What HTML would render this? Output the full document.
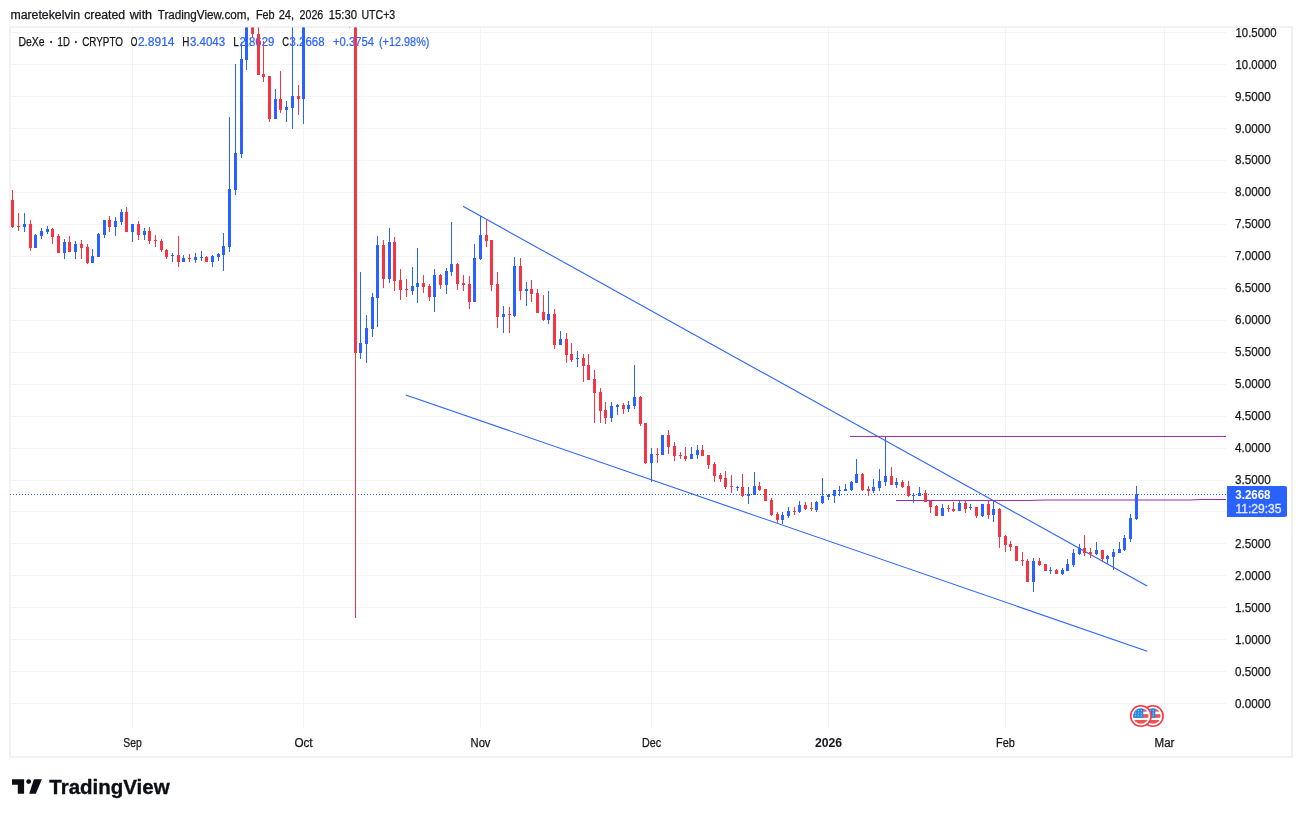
<!DOCTYPE html>
<html lang="en"><head><meta charset="utf-8"><title>DeXe chart</title>
<style>html,body{margin:0;padding:0;background:#fff}body{width:1302px;height:817px;overflow:hidden;position:relative}</style></head>
<body>
<svg width="1302" height="817" viewBox="0 0 1302 817" font-family="Liberation Sans, Arial, sans-serif" style="position:absolute;left:0;top:0;display:block">
<rect x="0" y="0" width="1302" height="817" fill="#fff"/>
<g fill="#f4f4f4">
<rect x="10" y="32.00" width="1216" height="1"/>
<rect x="10" y="64.00" width="1216" height="1"/>
<rect x="10" y="96.00" width="1216" height="1"/>
<rect x="10" y="128.00" width="1216" height="1"/>
<rect x="10" y="160.00" width="1216" height="1"/>
<rect x="10" y="192.00" width="1216" height="1"/>
<rect x="10" y="224.00" width="1216" height="1"/>
<rect x="10" y="256.00" width="1216" height="1"/>
<rect x="10" y="288.00" width="1216" height="1"/>
<rect x="10" y="320.00" width="1216" height="1"/>
<rect x="10" y="352.00" width="1216" height="1"/>
<rect x="10" y="384.00" width="1216" height="1"/>
<rect x="10" y="416.00" width="1216" height="1"/>
<rect x="10" y="448.00" width="1216" height="1"/>
<rect x="10" y="480.00" width="1216" height="1"/>
<rect x="10" y="511.00" width="1216" height="1"/>
<rect x="10" y="543.00" width="1216" height="1"/>
<rect x="10" y="575.00" width="1216" height="1"/>
<rect x="10" y="607.00" width="1216" height="1"/>
<rect x="10" y="639.00" width="1216" height="1"/>
<rect x="10" y="671.00" width="1216" height="1"/>
<rect x="10" y="703.00" width="1216" height="1"/>
<rect x="132" y="27" width="1" height="701.5"/>
<rect x="303" y="27" width="1" height="701.5"/>
<rect x="480" y="27" width="1" height="701.5"/>
<rect x="651" y="27" width="1" height="701.5"/>
<rect x="828" y="27" width="1" height="701.5"/>
<rect x="1005" y="27" width="1" height="701.5"/>
<rect x="1164" y="27" width="1" height="701.5"/>
</g>
<rect x="10" y="27" width="1282" height="730" fill="none" stroke="#f2f2f2" stroke-width="2"/>
<text x="10.40" y="18.80" font-size="12" fill="#15161b" textLength="69.80" lengthAdjust="spacingAndGlyphs" stroke="#15161b" stroke-width="0.25" >maretekelvin</text>
<text x="84.20" y="18.80" font-size="12" fill="#15161b" textLength="41.00" lengthAdjust="spacingAndGlyphs" stroke="#15161b" stroke-width="0.25" >created</text>
<text x="129.80" y="18.80" font-size="12" fill="#15161b" textLength="22.30" lengthAdjust="spacingAndGlyphs" stroke="#15161b" stroke-width="0.25" >with</text>
<text x="157.70" y="18.80" font-size="12" fill="#15161b" textLength="92.10" lengthAdjust="spacingAndGlyphs" stroke="#15161b" stroke-width="0.25" >TradingView.com,</text>
<text x="255.90" y="18.80" font-size="12" fill="#15161b" textLength="18.70" lengthAdjust="spacingAndGlyphs" stroke="#15161b" stroke-width="0.25" >Feb</text>
<text x="278.70" y="18.80" font-size="12" fill="#15161b" textLength="15.40" lengthAdjust="spacingAndGlyphs" stroke="#15161b" stroke-width="0.25" >24,</text>
<text x="299.60" y="18.80" font-size="12" fill="#15161b" textLength="23.70" lengthAdjust="spacingAndGlyphs" stroke="#15161b" stroke-width="0.25" >2026</text>
<text x="328.70" y="18.80" font-size="12" fill="#15161b" textLength="28.40" lengthAdjust="spacingAndGlyphs" stroke="#15161b" stroke-width="0.25" >15:30</text>
<text x="361.40" y="18.80" font-size="12" fill="#15161b" textLength="33.80" lengthAdjust="spacingAndGlyphs" stroke="#15161b" stroke-width="0.25" >UTC+3</text>
<text x="18.40" y="45.90" font-size="12" fill="#15161b" textLength="26.10" lengthAdjust="spacingAndGlyphs" stroke="#15161b" stroke-width="0.25" >DeXe</text>
<text x="51.10" y="43.70" font-size="6.5" fill="#15161b" text-anchor="middle" stroke="#15161b" stroke-width="0.25" >•</text>
<text x="57.60" y="45.90" font-size="12" fill="#15161b" textLength="12.30" lengthAdjust="spacingAndGlyphs" stroke="#15161b" stroke-width="0.25" >1D</text>
<text x="76.00" y="43.70" font-size="6.5" fill="#15161b" text-anchor="middle" stroke="#15161b" stroke-width="0.25" >•</text>
<text x="82.20" y="45.90" font-size="12" fill="#15161b" textLength="40.80" lengthAdjust="spacingAndGlyphs" stroke="#15161b" stroke-width="0.25" >CRYPTO</text>
<text x="130.70" y="45.90" font-size="12" fill="#15161b" textLength="6.60" lengthAdjust="spacingAndGlyphs" stroke="#15161b" stroke-width="0.25" >O</text>
<text x="137.90" y="45.90" font-size="12" fill="#2962ff" textLength="36.60" lengthAdjust="spacingAndGlyphs" stroke="#2962ff" stroke-width="0.2" >2.8914</text>
<text x="182.20" y="45.90" font-size="12" fill="#15161b" textLength="7.10" lengthAdjust="spacingAndGlyphs" stroke="#15161b" stroke-width="0.25" >H</text>
<text x="189.90" y="45.90" font-size="12" fill="#2962ff" textLength="35.30" lengthAdjust="spacingAndGlyphs" stroke="#2962ff" stroke-width="0.2" >3.4043</text>
<text x="233.30" y="45.90" font-size="12" fill="#15161b" textLength="5.70" lengthAdjust="spacingAndGlyphs" stroke="#15161b" stroke-width="0.25" >L</text>
<text x="239.60" y="45.90" font-size="12" fill="#2962ff" textLength="34.70" lengthAdjust="spacingAndGlyphs" stroke="#2962ff" stroke-width="0.2" >2.8629</text>
<text x="282.30" y="45.90" font-size="12" fill="#15161b" textLength="6.70" lengthAdjust="spacingAndGlyphs" stroke="#15161b" stroke-width="0.25" >C</text>
<text x="289.60" y="45.90" font-size="12" fill="#2962ff" textLength="34.90" lengthAdjust="spacingAndGlyphs" stroke="#2962ff" stroke-width="0.2" >3.2668</text>
<text x="333.00" y="45.90" font-size="12" fill="#2962ff" textLength="41.00" lengthAdjust="spacingAndGlyphs" stroke="#2962ff" stroke-width="0.2" >+0.3754</text>
<text x="379.00" y="45.90" font-size="12" fill="#2962ff" textLength="50.40" lengthAdjust="spacingAndGlyphs" stroke="#2962ff" stroke-width="0.2" >(+12.98%)</text>
<text x="1235.50" y="37.10" font-size="12.3" fill="#15161b" textLength="41.10" lengthAdjust="spacingAndGlyphs" stroke="#15161b" stroke-width="0.25" >10.5000</text>
<text x="1235.50" y="69.10" font-size="12.3" fill="#15161b" textLength="41.10" lengthAdjust="spacingAndGlyphs" stroke="#15161b" stroke-width="0.25" >10.0000</text>
<text x="1234.90" y="101.10" font-size="12.3" fill="#15161b" textLength="35.80" lengthAdjust="spacingAndGlyphs" stroke="#15161b" stroke-width="0.25" >9.5000</text>
<text x="1234.90" y="133.10" font-size="12.3" fill="#15161b" textLength="35.80" lengthAdjust="spacingAndGlyphs" stroke="#15161b" stroke-width="0.25" >9.0000</text>
<text x="1234.90" y="164.10" font-size="12.3" fill="#15161b" textLength="35.80" lengthAdjust="spacingAndGlyphs" stroke="#15161b" stroke-width="0.25" >8.5000</text>
<text x="1234.90" y="196.10" font-size="12.3" fill="#15161b" textLength="35.80" lengthAdjust="spacingAndGlyphs" stroke="#15161b" stroke-width="0.25" >8.0000</text>
<text x="1234.90" y="228.10" font-size="12.3" fill="#15161b" textLength="35.80" lengthAdjust="spacingAndGlyphs" stroke="#15161b" stroke-width="0.25" >7.5000</text>
<text x="1234.90" y="260.10" font-size="12.3" fill="#15161b" textLength="35.80" lengthAdjust="spacingAndGlyphs" stroke="#15161b" stroke-width="0.25" >7.0000</text>
<text x="1234.90" y="292.10" font-size="12.3" fill="#15161b" textLength="35.80" lengthAdjust="spacingAndGlyphs" stroke="#15161b" stroke-width="0.25" >6.5000</text>
<text x="1234.90" y="324.10" font-size="12.3" fill="#15161b" textLength="35.80" lengthAdjust="spacingAndGlyphs" stroke="#15161b" stroke-width="0.25" >6.0000</text>
<text x="1234.90" y="356.10" font-size="12.3" fill="#15161b" textLength="35.80" lengthAdjust="spacingAndGlyphs" stroke="#15161b" stroke-width="0.25" >5.5000</text>
<text x="1234.90" y="388.10" font-size="12.3" fill="#15161b" textLength="35.80" lengthAdjust="spacingAndGlyphs" stroke="#15161b" stroke-width="0.25" >5.0000</text>
<text x="1234.90" y="420.10" font-size="12.3" fill="#15161b" textLength="35.80" lengthAdjust="spacingAndGlyphs" stroke="#15161b" stroke-width="0.25" >4.5000</text>
<text x="1234.90" y="452.10" font-size="12.3" fill="#15161b" textLength="35.80" lengthAdjust="spacingAndGlyphs" stroke="#15161b" stroke-width="0.25" >4.0000</text>
<text x="1234.90" y="484.10" font-size="12.3" fill="#15161b" textLength="35.80" lengthAdjust="spacingAndGlyphs" stroke="#15161b" stroke-width="0.25" >3.5000</text>
<text x="1234.90" y="548.10" font-size="12.3" fill="#15161b" textLength="35.80" lengthAdjust="spacingAndGlyphs" stroke="#15161b" stroke-width="0.25" >2.5000</text>
<text x="1234.90" y="580.10" font-size="12.3" fill="#15161b" textLength="35.80" lengthAdjust="spacingAndGlyphs" stroke="#15161b" stroke-width="0.25" >2.0000</text>
<text x="1234.90" y="612.10" font-size="12.3" fill="#15161b" textLength="35.80" lengthAdjust="spacingAndGlyphs" stroke="#15161b" stroke-width="0.25" >1.5000</text>
<text x="1234.90" y="644.10" font-size="12.3" fill="#15161b" textLength="35.80" lengthAdjust="spacingAndGlyphs" stroke="#15161b" stroke-width="0.25" >1.0000</text>
<text x="1234.90" y="676.10" font-size="12.3" fill="#15161b" textLength="35.80" lengthAdjust="spacingAndGlyphs" stroke="#15161b" stroke-width="0.25" >0.5000</text>
<text x="1234.90" y="708.10" font-size="12.3" fill="#15161b" textLength="35.80" lengthAdjust="spacingAndGlyphs" stroke="#15161b" stroke-width="0.25" >0.0000</text>
<text x="123.25" y="747.00" font-size="12" fill="#15161b" textLength="18.50" lengthAdjust="spacingAndGlyphs" stroke="#15161b" stroke-width="0.25" >Sep</text>
<text x="294.40" y="747.00" font-size="12" fill="#15161b" textLength="18.20" lengthAdjust="spacingAndGlyphs" stroke="#15161b" stroke-width="0.25" >Oct</text>
<text x="470.55" y="747.00" font-size="12" fill="#15161b" textLength="19.90" lengthAdjust="spacingAndGlyphs" stroke="#15161b" stroke-width="0.25" >Nov</text>
<text x="642.00" y="747.00" font-size="12" fill="#15161b" textLength="19.00" lengthAdjust="spacingAndGlyphs" stroke="#15161b" stroke-width="0.25" >Dec</text>
<text x="814.90" y="747.00" font-size="12" fill="#15161b" textLength="27.20" lengthAdjust="spacingAndGlyphs" font-weight="bold" >2026</text>
<text x="996.10" y="747.00" font-size="12" fill="#15161b" textLength="18.80" lengthAdjust="spacingAndGlyphs" stroke="#15161b" stroke-width="0.25" >Feb</text>
<text x="1154.55" y="747.00" font-size="12" fill="#15161b" textLength="19.90" lengthAdjust="spacingAndGlyphs" stroke="#15161b" stroke-width="0.25" >Mar</text>
<clipPath id="pc"><rect x="10" y="27.4" width="1216" height="700.6"/></clipPath>
<g clip-path="url(#pc)">
<line x1="10" y1="494.5" x2="1226" y2="494.5" stroke="#2962ff" stroke-width="1" stroke-dasharray="1 2"/>
<line x1="463" y1="206.3" x2="1147.1" y2="585.9" stroke="#2962ff" stroke-width="1.1"/>
<line x1="405.8" y1="394.9" x2="1147.2" y2="651.2" stroke="#2962ff" stroke-width="1.1"/>
<line x1="850" y1="436.45" x2="1226" y2="436.45" stroke="#9c27b0" stroke-width="1"/>
<polyline points="896,500.5 1030,500.45 1045,500 1190,500 1200,499.55 1226,499.5" fill="none" stroke="#9c27b0" stroke-width="1"/>
<g fill="#f23645" shape-rendering="crispEdges">
<rect x="12" y="190" width="1" height="38"/>
<rect x="11" y="200" width="3" height="27"/>
<rect x="18" y="213" width="1" height="18"/>
<rect x="17" y="226" width="3" height="1"/>
<rect x="30" y="220" width="1" height="31"/>
<rect x="29" y="224" width="3" height="24"/>
<rect x="52" y="228" width="1" height="16"/>
<rect x="51" y="229" width="3" height="8"/>
<rect x="58" y="234" width="1" height="19"/>
<rect x="57" y="236" width="3" height="17"/>
<rect x="69" y="236" width="1" height="16"/>
<rect x="68" y="242" width="3" height="10"/>
<rect x="81" y="240" width="1" height="19"/>
<rect x="80" y="244" width="3" height="4"/>
<rect x="87" y="244" width="1" height="20"/>
<rect x="86" y="247" width="3" height="16"/>
<rect x="109" y="216" width="1" height="16"/>
<rect x="108" y="220" width="3" height="7"/>
<rect x="126" y="207" width="1" height="25"/>
<rect x="125" y="212" width="3" height="20"/>
<rect x="138" y="221" width="1" height="19"/>
<rect x="137" y="224" width="3" height="11"/>
<rect x="149" y="227" width="1" height="17"/>
<rect x="148" y="231" width="3" height="10"/>
<rect x="155" y="235" width="1" height="12"/>
<rect x="154" y="240" width="3" height="1"/>
<rect x="161" y="239" width="1" height="13"/>
<rect x="160" y="241" width="3" height="9"/>
<rect x="166" y="249" width="1" height="10"/>
<rect x="165" y="250" width="3" height="7"/>
<rect x="178" y="236" width="1" height="31"/>
<rect x="177" y="255" width="3" height="7"/>
<rect x="189" y="254" width="1" height="8"/>
<rect x="188" y="258" width="3" height="1"/>
<rect x="206" y="256" width="1" height="6"/>
<rect x="205" y="257" width="3" height="5"/>
<rect x="252" y="20" width="1" height="17"/>
<rect x="251" y="20" width="3" height="14"/>
<rect x="258" y="20" width="1" height="55"/>
<rect x="257" y="34" width="3" height="41"/>
<rect x="263" y="41" width="1" height="41"/>
<rect x="262" y="74" width="3" height="3"/>
<rect x="269" y="76" width="1" height="46"/>
<rect x="268" y="76" width="3" height="43"/>
<rect x="280" y="71" width="1" height="42"/>
<rect x="279" y="99" width="3" height="11"/>
<rect x="298" y="85" width="1" height="30"/>
<rect x="297" y="96" width="3" height="3"/>
<rect x="349" y="20" width="1" height="8"/>
<rect x="348" y="20" width="3" height="1"/>
<rect x="355" y="20" width="1" height="598"/>
<rect x="354" y="20" width="3" height="333"/>
<rect x="383" y="240" width="1" height="48"/>
<rect x="382" y="245" width="3" height="34"/>
<rect x="394" y="237" width="1" height="54"/>
<rect x="393" y="242" width="3" height="39"/>
<rect x="400" y="269" width="1" height="31"/>
<rect x="399" y="280" width="3" height="10"/>
<rect x="406" y="279" width="1" height="18"/>
<rect x="405" y="289" width="3" height="1"/>
<rect x="423" y="275" width="1" height="18"/>
<rect x="422" y="283" width="3" height="4"/>
<rect x="429" y="284" width="1" height="17"/>
<rect x="428" y="286" width="3" height="11"/>
<rect x="440" y="274" width="1" height="15"/>
<rect x="439" y="275" width="3" height="10"/>
<rect x="457" y="263" width="1" height="27"/>
<rect x="456" y="264" width="3" height="20"/>
<rect x="463" y="275" width="1" height="16"/>
<rect x="462" y="283" width="3" height="2"/>
<rect x="469" y="276" width="1" height="33"/>
<rect x="468" y="284" width="3" height="18"/>
<rect x="486" y="219" width="1" height="28"/>
<rect x="485" y="235" width="3" height="6"/>
<rect x="491" y="240" width="1" height="51"/>
<rect x="490" y="240" width="3" height="45"/>
<rect x="497" y="272" width="1" height="56"/>
<rect x="496" y="284" width="3" height="33"/>
<rect x="509" y="307" width="1" height="26"/>
<rect x="508" y="314" width="3" height="1"/>
<rect x="520" y="258" width="1" height="42"/>
<rect x="519" y="266" width="3" height="25"/>
<rect x="531" y="280" width="1" height="22"/>
<rect x="530" y="289" width="3" height="5"/>
<rect x="537" y="289" width="1" height="24"/>
<rect x="536" y="293" width="3" height="20"/>
<rect x="543" y="295" width="1" height="26"/>
<rect x="542" y="312" width="3" height="8"/>
<rect x="554" y="309" width="1" height="40"/>
<rect x="553" y="314" width="3" height="31"/>
<rect x="566" y="333" width="1" height="30"/>
<rect x="565" y="339" width="3" height="16"/>
<rect x="571" y="343" width="1" height="19"/>
<rect x="570" y="354" width="3" height="6"/>
<rect x="583" y="354" width="1" height="28"/>
<rect x="582" y="358" width="3" height="8"/>
<rect x="588" y="354" width="1" height="26"/>
<rect x="587" y="365" width="3" height="15"/>
<rect x="594" y="370" width="1" height="53"/>
<rect x="593" y="379" width="3" height="14"/>
<rect x="600" y="388" width="1" height="35"/>
<rect x="599" y="392" width="3" height="19"/>
<rect x="605" y="402" width="1" height="22"/>
<rect x="604" y="410" width="3" height="8"/>
<rect x="623" y="403" width="1" height="11"/>
<rect x="622" y="405" width="3" height="4"/>
<rect x="640" y="396" width="1" height="30"/>
<rect x="639" y="397" width="3" height="27"/>
<rect x="645" y="423" width="1" height="41"/>
<rect x="644" y="423" width="3" height="40"/>
<rect x="657" y="448" width="1" height="15"/>
<rect x="656" y="454" width="3" height="1"/>
<rect x="668" y="430" width="1" height="24"/>
<rect x="667" y="435" width="3" height="12"/>
<rect x="674" y="442" width="1" height="19"/>
<rect x="673" y="446" width="3" height="10"/>
<rect x="680" y="452" width="1" height="7"/>
<rect x="679" y="455" width="3" height="1"/>
<rect x="685" y="447" width="1" height="14"/>
<rect x="684" y="456" width="3" height="3"/>
<rect x="702" y="445" width="1" height="11"/>
<rect x="701" y="450" width="3" height="6"/>
<rect x="708" y="455" width="1" height="14"/>
<rect x="707" y="455" width="3" height="10"/>
<rect x="714" y="462" width="1" height="20"/>
<rect x="713" y="464" width="3" height="12"/>
<rect x="720" y="473" width="1" height="9"/>
<rect x="719" y="475" width="3" height="4"/>
<rect x="725" y="471" width="1" height="18"/>
<rect x="724" y="478" width="3" height="9"/>
<rect x="731" y="475" width="1" height="18"/>
<rect x="730" y="486" width="3" height="1"/>
<rect x="742" y="474" width="1" height="23"/>
<rect x="741" y="487" width="3" height="9"/>
<rect x="759" y="482" width="1" height="9"/>
<rect x="758" y="486" width="3" height="4"/>
<rect x="765" y="489" width="1" height="12"/>
<rect x="764" y="489" width="3" height="12"/>
<rect x="771" y="498" width="1" height="18"/>
<rect x="770" y="500" width="3" height="15"/>
<rect x="777" y="512" width="1" height="11"/>
<rect x="776" y="514" width="3" height="6"/>
<rect x="794" y="507" width="1" height="8"/>
<rect x="793" y="511" width="3" height="1"/>
<rect x="805" y="502" width="1" height="8"/>
<rect x="804" y="505" width="3" height="4"/>
<rect x="811" y="502" width="1" height="9"/>
<rect x="810" y="508" width="3" height="1"/>
<rect x="862" y="473" width="1" height="18"/>
<rect x="861" y="474" width="3" height="16"/>
<rect x="868" y="486" width="1" height="10"/>
<rect x="867" y="489" width="3" height="2"/>
<rect x="891" y="467" width="1" height="18"/>
<rect x="890" y="476" width="3" height="9"/>
<rect x="902" y="480" width="1" height="8"/>
<rect x="901" y="482" width="3" height="5"/>
<rect x="908" y="481" width="1" height="16"/>
<rect x="907" y="486" width="3" height="10"/>
<rect x="925" y="490" width="1" height="12"/>
<rect x="924" y="493" width="3" height="9"/>
<rect x="930" y="500" width="1" height="13"/>
<rect x="929" y="501" width="3" height="6"/>
<rect x="936" y="505" width="1" height="11"/>
<rect x="935" y="506" width="3" height="10"/>
<rect x="948" y="505" width="1" height="7"/>
<rect x="947" y="508" width="3" height="1"/>
<rect x="953" y="502" width="1" height="10"/>
<rect x="952" y="509" width="3" height="2"/>
<rect x="965" y="500" width="1" height="13"/>
<rect x="964" y="503" width="3" height="6"/>
<rect x="976" y="507" width="1" height="11"/>
<rect x="975" y="507" width="3" height="9"/>
<rect x="988" y="501" width="1" height="18"/>
<rect x="987" y="504" width="3" height="11"/>
<rect x="999" y="508" width="1" height="40"/>
<rect x="998" y="509" width="3" height="28"/>
<rect x="1005" y="535" width="1" height="17"/>
<rect x="1004" y="536" width="3" height="9"/>
<rect x="1010" y="541" width="1" height="10"/>
<rect x="1009" y="544" width="3" height="3"/>
<rect x="1016" y="546" width="1" height="15"/>
<rect x="1015" y="546" width="3" height="15"/>
<rect x="1022" y="552" width="1" height="14"/>
<rect x="1021" y="560" width="3" height="1"/>
<rect x="1027" y="559" width="1" height="23"/>
<rect x="1026" y="561" width="3" height="21"/>
<rect x="1039" y="558" width="1" height="8"/>
<rect x="1038" y="561" width="3" height="4"/>
<rect x="1045" y="564" width="1" height="7"/>
<rect x="1044" y="564" width="3" height="7"/>
<rect x="1056" y="569" width="1" height="5"/>
<rect x="1055" y="570" width="3" height="4"/>
<rect x="1084" y="535" width="1" height="21"/>
<rect x="1083" y="548" width="3" height="5"/>
<rect x="1090" y="548" width="1" height="10"/>
<rect x="1089" y="552" width="3" height="2"/>
<rect x="1102" y="550" width="1" height="12"/>
<rect x="1101" y="550" width="3" height="9"/>
</g>
<g fill="#2962ff" shape-rendering="crispEdges">
<rect x="24" y="213" width="1" height="19"/>
<rect x="23" y="224" width="3" height="3"/>
<rect x="35" y="234" width="1" height="14"/>
<rect x="34" y="235" width="3" height="13"/>
<rect x="41" y="228" width="1" height="11"/>
<rect x="40" y="231" width="3" height="5"/>
<rect x="47" y="226" width="1" height="8"/>
<rect x="46" y="229" width="3" height="3"/>
<rect x="64" y="239" width="1" height="20"/>
<rect x="63" y="242" width="3" height="11"/>
<rect x="75" y="241" width="1" height="18"/>
<rect x="74" y="244" width="3" height="8"/>
<rect x="92" y="249" width="1" height="14"/>
<rect x="91" y="256" width="3" height="7"/>
<rect x="98" y="233" width="1" height="24"/>
<rect x="97" y="234" width="3" height="23"/>
<rect x="104" y="220" width="1" height="18"/>
<rect x="103" y="220" width="3" height="15"/>
<rect x="115" y="217" width="1" height="19"/>
<rect x="114" y="221" width="3" height="6"/>
<rect x="121" y="209" width="1" height="16"/>
<rect x="120" y="212" width="3" height="10"/>
<rect x="132" y="224" width="1" height="18"/>
<rect x="131" y="224" width="3" height="8"/>
<rect x="144" y="228" width="1" height="12"/>
<rect x="143" y="231" width="3" height="4"/>
<rect x="172" y="253" width="1" height="9"/>
<rect x="171" y="255" width="3" height="1"/>
<rect x="183" y="255" width="1" height="7"/>
<rect x="182" y="258" width="3" height="4"/>
<rect x="195" y="253" width="1" height="10"/>
<rect x="194" y="257" width="3" height="3"/>
<rect x="201" y="251" width="1" height="10"/>
<rect x="200" y="257" width="3" height="1"/>
<rect x="212" y="255" width="1" height="12"/>
<rect x="211" y="256" width="3" height="6"/>
<rect x="218" y="253" width="1" height="8"/>
<rect x="217" y="254" width="3" height="3"/>
<rect x="223" y="233" width="1" height="38"/>
<rect x="222" y="246" width="3" height="9"/>
<rect x="229" y="117" width="1" height="135"/>
<rect x="228" y="189" width="3" height="58"/>
<rect x="235" y="64" width="1" height="131"/>
<rect x="234" y="153" width="3" height="37"/>
<rect x="241" y="42" width="1" height="116"/>
<rect x="240" y="59" width="3" height="95"/>
<rect x="246" y="20" width="1" height="50"/>
<rect x="245" y="20" width="3" height="40"/>
<rect x="275" y="89" width="1" height="30"/>
<rect x="274" y="99" width="3" height="20"/>
<rect x="286" y="101" width="1" height="21"/>
<rect x="285" y="107" width="3" height="3"/>
<rect x="292" y="20" width="1" height="109"/>
<rect x="291" y="96" width="3" height="12"/>
<rect x="303" y="20" width="1" height="104"/>
<rect x="302" y="20" width="3" height="79"/>
<rect x="360" y="272" width="1" height="87"/>
<rect x="359" y="343" width="3" height="10"/>
<rect x="366" y="315" width="1" height="48"/>
<rect x="365" y="328" width="3" height="16"/>
<rect x="372" y="293" width="1" height="44"/>
<rect x="371" y="297" width="3" height="32"/>
<rect x="377" y="236" width="1" height="91"/>
<rect x="376" y="245" width="3" height="53"/>
<rect x="389" y="228" width="1" height="55"/>
<rect x="388" y="242" width="3" height="37"/>
<rect x="412" y="267" width="1" height="28"/>
<rect x="411" y="286" width="3" height="5"/>
<rect x="417" y="248" width="1" height="55"/>
<rect x="416" y="283" width="3" height="4"/>
<rect x="434" y="269" width="1" height="43"/>
<rect x="433" y="275" width="3" height="22"/>
<rect x="446" y="268" width="1" height="26"/>
<rect x="445" y="271" width="3" height="14"/>
<rect x="451" y="222" width="1" height="54"/>
<rect x="450" y="264" width="3" height="8"/>
<rect x="474" y="244" width="1" height="58"/>
<rect x="473" y="258" width="3" height="44"/>
<rect x="480" y="216" width="1" height="44"/>
<rect x="479" y="235" width="3" height="24"/>
<rect x="503" y="306" width="1" height="27"/>
<rect x="502" y="314" width="3" height="3"/>
<rect x="514" y="257" width="1" height="60"/>
<rect x="513" y="266" width="3" height="50"/>
<rect x="526" y="282" width="1" height="24"/>
<rect x="525" y="289" width="3" height="2"/>
<rect x="548" y="291" width="1" height="33"/>
<rect x="547" y="314" width="3" height="6"/>
<rect x="560" y="331" width="1" height="14"/>
<rect x="559" y="339" width="3" height="6"/>
<rect x="577" y="351" width="1" height="16"/>
<rect x="576" y="358" width="3" height="1"/>
<rect x="611" y="402" width="1" height="20"/>
<rect x="610" y="406" width="3" height="12"/>
<rect x="617" y="404" width="1" height="11"/>
<rect x="616" y="405" width="3" height="2"/>
<rect x="628" y="401" width="1" height="11"/>
<rect x="627" y="405" width="3" height="4"/>
<rect x="634" y="365" width="1" height="44"/>
<rect x="633" y="397" width="3" height="9"/>
<rect x="651" y="448" width="1" height="34"/>
<rect x="650" y="454" width="3" height="9"/>
<rect x="662" y="435" width="1" height="20"/>
<rect x="661" y="435" width="3" height="20"/>
<rect x="691" y="447" width="1" height="12"/>
<rect x="690" y="454" width="3" height="5"/>
<rect x="697" y="445" width="1" height="14"/>
<rect x="696" y="450" width="3" height="5"/>
<rect x="737" y="486" width="1" height="5"/>
<rect x="736" y="487" width="3" height="1"/>
<rect x="748" y="487" width="1" height="17"/>
<rect x="747" y="494" width="3" height="2"/>
<rect x="754" y="472" width="1" height="23"/>
<rect x="753" y="486" width="3" height="9"/>
<rect x="782" y="512" width="1" height="12"/>
<rect x="781" y="515" width="3" height="5"/>
<rect x="788" y="507" width="1" height="11"/>
<rect x="787" y="511" width="3" height="5"/>
<rect x="799" y="501" width="1" height="12"/>
<rect x="798" y="505" width="3" height="7"/>
<rect x="816" y="501" width="1" height="11"/>
<rect x="815" y="502" width="3" height="8"/>
<rect x="822" y="478" width="1" height="26"/>
<rect x="821" y="496" width="3" height="7"/>
<rect x="828" y="494" width="1" height="6"/>
<rect x="827" y="495" width="3" height="2"/>
<rect x="834" y="490" width="1" height="13"/>
<rect x="833" y="490" width="3" height="6"/>
<rect x="839" y="486" width="1" height="10"/>
<rect x="838" y="490" width="3" height="1"/>
<rect x="845" y="484" width="1" height="7"/>
<rect x="844" y="489" width="3" height="2"/>
<rect x="851" y="481" width="1" height="10"/>
<rect x="850" y="482" width="3" height="8"/>
<rect x="856" y="459" width="1" height="24"/>
<rect x="855" y="474" width="3" height="9"/>
<rect x="873" y="479" width="1" height="14"/>
<rect x="872" y="487" width="3" height="4"/>
<rect x="879" y="469" width="1" height="22"/>
<rect x="878" y="481" width="3" height="7"/>
<rect x="885" y="437" width="1" height="49"/>
<rect x="884" y="476" width="3" height="6"/>
<rect x="896" y="478" width="1" height="10"/>
<rect x="895" y="482" width="3" height="3"/>
<rect x="913" y="493" width="1" height="10"/>
<rect x="912" y="495" width="3" height="1"/>
<rect x="919" y="487" width="1" height="9"/>
<rect x="918" y="493" width="3" height="3"/>
<rect x="942" y="504" width="1" height="12"/>
<rect x="941" y="508" width="3" height="8"/>
<rect x="959" y="501" width="1" height="10"/>
<rect x="958" y="503" width="3" height="8"/>
<rect x="970" y="504" width="1" height="6"/>
<rect x="969" y="507" width="3" height="1"/>
<rect x="982" y="504" width="1" height="13"/>
<rect x="981" y="504" width="3" height="12"/>
<rect x="993" y="501" width="1" height="21"/>
<rect x="992" y="509" width="3" height="6"/>
<rect x="1033" y="558" width="1" height="34"/>
<rect x="1032" y="561" width="3" height="21"/>
<rect x="1050" y="567" width="1" height="7"/>
<rect x="1049" y="570" width="3" height="1"/>
<rect x="1062" y="568" width="1" height="7"/>
<rect x="1061" y="570" width="3" height="4"/>
<rect x="1067" y="559" width="1" height="12"/>
<rect x="1066" y="564" width="3" height="7"/>
<rect x="1073" y="549" width="1" height="18"/>
<rect x="1072" y="553" width="3" height="12"/>
<rect x="1079" y="544" width="1" height="11"/>
<rect x="1078" y="548" width="3" height="6"/>
<rect x="1096" y="542" width="1" height="13"/>
<rect x="1095" y="550" width="3" height="4"/>
<rect x="1107" y="555" width="1" height="9"/>
<rect x="1106" y="556" width="3" height="3"/>
<rect x="1113" y="549" width="1" height="21"/>
<rect x="1112" y="552" width="3" height="5"/>
<rect x="1119" y="542" width="1" height="11"/>
<rect x="1118" y="549" width="3" height="4"/>
<rect x="1124" y="535" width="1" height="16"/>
<rect x="1123" y="538" width="3" height="12"/>
<rect x="1130" y="514" width="1" height="28"/>
<rect x="1129" y="518" width="3" height="21"/>
<rect x="1136" y="486" width="1" height="34"/>
<rect x="1135" y="494" width="3" height="25"/>
</g>
</g>
<path d="M1227 486h58a2 2 0 0 1 2 2v27a2 2 0 0 1 -2 2h-58z" fill="#2962ff"/>
<text x="1235.30" y="498.80" font-size="12.3" fill="#fff" textLength="35.20" lengthAdjust="spacingAndGlyphs" font-weight="bold" >3.2668</text>
<text x="1235.50" y="512.90" font-size="12.3" fill="#e6ecff" textLength="46.00" lengthAdjust="spacingAndGlyphs" stroke="#e6ecff" stroke-width="0.3">11:29:35</text>
<g>
<circle cx="1152.9" cy="716" r="10.2" fill="#fff" stroke="#f23645" stroke-width="1.6"/>
<clipPath id="f2"><circle cx="1152.9" cy="716" r="7.7"/></clipPath>
<g clip-path="url(#f2)">
<rect x="1144.9" y="708" width="16" height="16" fill="#fff"/>
<rect x="1144.9" y="708.8" width="16" height="2.8" fill="#ef5350"/>
<rect x="1144.9" y="714.2" width="16" height="3.6" fill="#ef5350"/>
<rect x="1144.9" y="720" width="16" height="4" fill="#ef5350"/>
<rect x="1144.9" y="708" width="10.4" height="9.8" fill="#1e88e5"/>
<rect x="1147.2" y="710.1" width="1" height="1" fill="#fff" opacity="0.85"/>
<rect x="1147.2" y="712.7" width="1" height="1" fill="#fff" opacity="0.85"/>
<rect x="1147.2" y="715.3" width="1" height="1" fill="#fff" opacity="0.85"/>
<rect x="1149.9" y="710.1" width="1" height="1" fill="#fff" opacity="0.85"/>
<rect x="1149.9" y="712.7" width="1" height="1" fill="#fff" opacity="0.85"/>
<rect x="1149.9" y="715.3" width="1" height="1" fill="#fff" opacity="0.85"/>
<rect x="1152.7" y="710.1" width="1" height="1" fill="#fff" opacity="0.85"/>
<rect x="1152.7" y="712.7" width="1" height="1" fill="#fff" opacity="0.85"/>
<rect x="1152.7" y="715.3" width="1" height="1" fill="#fff" opacity="0.85"/>
</g></g>
<g>
<circle cx="1140.9" cy="716" r="10.2" fill="#fff" stroke="#f23645" stroke-width="1.6"/>
<clipPath id="f1"><circle cx="1140.9" cy="716" r="7.7"/></clipPath>
<g clip-path="url(#f1)">
<rect x="1132.9" y="708" width="16" height="16" fill="#fff"/>
<rect x="1132.9" y="708.8" width="16" height="2.8" fill="#ef5350"/>
<rect x="1132.9" y="714.2" width="16" height="3.6" fill="#ef5350"/>
<rect x="1132.9" y="720" width="16" height="4" fill="#ef5350"/>
<rect x="1132.9" y="708" width="10.4" height="9.8" fill="#1e88e5"/>
<rect x="1135.2" y="710.1" width="1" height="1" fill="#fff" opacity="0.85"/>
<rect x="1135.2" y="712.7" width="1" height="1" fill="#fff" opacity="0.85"/>
<rect x="1135.2" y="715.3" width="1" height="1" fill="#fff" opacity="0.85"/>
<rect x="1137.9" y="710.1" width="1" height="1" fill="#fff" opacity="0.85"/>
<rect x="1137.9" y="712.7" width="1" height="1" fill="#fff" opacity="0.85"/>
<rect x="1137.9" y="715.3" width="1" height="1" fill="#fff" opacity="0.85"/>
<rect x="1140.7" y="710.1" width="1" height="1" fill="#fff" opacity="0.85"/>
<rect x="1140.7" y="712.7" width="1" height="1" fill="#fff" opacity="0.85"/>
<rect x="1140.7" y="715.3" width="1" height="1" fill="#fff" opacity="0.85"/>
</g></g>
<g fill="#0c0e15">
<path d="M12 779.2H24.1V793.7H17.8V784.7H12Z"/>
<circle cx="28.7" cy="781.6" r="2.4"/>
<path d="M33.9 779.2H41.9L35.8 793.7H29.2Z"/>
</g>
<text x="49.30" y="793.70" font-size="20.2" fill="#0c0e15" textLength="120.30" lengthAdjust="spacingAndGlyphs" font-weight="bold" stroke="#0c0e15" stroke-width="0.35">TradingView</text>
</svg>
</body></html>
